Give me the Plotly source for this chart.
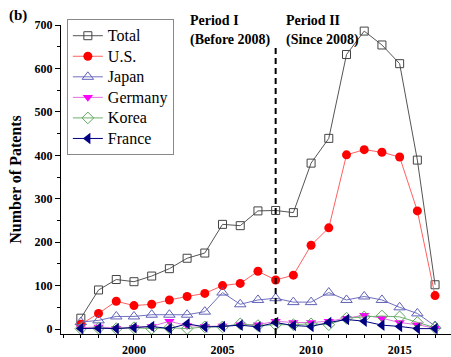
import plotly.graph_objects as go

years = list(range(1997, 2018))

total = [25, 90, 114, 109, 122, 139, 163, 175, 241, 238, 272, 273, 268, 382, 439, 632, 686, 654, 611, 389, 102]
us = [11, 36, 64, 54, 57, 67, 75, 82, 100, 105, 133, 113, 124, 193, 233, 401, 413, 407, 396, 272, 77]
japan = [16, 20, 29, 29, 33, 33, 33, 40, 84, 57, 67, 71, 62, 62, 84, 67, 75, 67, 50, 36, 7]
germany = [3, 5, 2, 4, 6, 18, 8, 6, 7, 10, 10, 18, 15, 15, 18, 25, 32, 25, 15, 10, 2]
korea = [1, 2, 1, 3, 1, 3, 1, 5, 5, 12, 8, 10, 10, 12, 10, 25, 28, 30, 28, 15, 3]
france = [1, 2, 1, 3, 6, 1, 12, 5, 6, 9, 5, 15, 8, 6, 15, 22, 18, 9, 6, 1, 1]

split_year = 2008
serif = "Liberation Serif, Times New Roman, serif"

series = [
    ("Total", total, "#555555", dict(symbol="square-open", size=8, color="#444444", line=dict(width=1))),
    ("U.S.", us, "#ff6060", dict(symbol="circle", size=9, color="#ff0000")),
    ("Japan", japan, "#7070c0", dict(symbol="triangle-up-open", size=10, color="#6060b8", line=dict(width=1))),
    ("Germany", germany, "#e070e0", dict(symbol="triangle-down", size=9, color="#ff00ff")),
    ("Korea", korea, "#70b070", dict(symbol="diamond-open", size=9, color="#60a860", line=dict(width=1))),
    ("France", france, "#000080", dict(symbol="triangle-left", size=10, color="#000080")),
]

fig = go.Figure()
for name, vals, lc, mk in series:
    fig.add_trace(go.Scatter(
        x=years, y=vals, mode="lines+markers",
        # larger glyphs inside a compact legend row
        name='<span style="font-size:16px">%s</span>' % name,
        line=dict(color=lc, width=1), marker=mk, cliponaxis=False,
    ))

# boundary between the two periods
fig.add_shape(type="line", x0=split_year, x1=split_year, y0=-11.4, y1=648,
              xref="x", yref="y", line=dict(color="black", width=2, dash="6px,4px"))

bold = dict(family=serif, size=14, color="black")
period_labels = [
    (2003.05, 5, "<b>Period I</b>"),
    (2003.05, -15, "<b>(Before 2008)</b>"),
    (2008.45, 5, "<b>Period II</b>"),
    (2008.45, -15, "<b>(Since 2008)</b>"),
]
for px, shift, txt in period_labels:
    fig.add_annotation(x=px, y=1, xref="x", yref="paper", yshift=shift, text=txt,
                       showarrow=False, xanchor="left", yanchor="middle", font=bold)

fig.add_annotation(x=-0.138, y=1.03, xref="paper", yref="paper", text="<b>(b)</b>",
                   showarrow=False, xanchor="left", yanchor="middle",
                   font=dict(family=serif, size=15, color="black"))

tickfont = dict(family=serif, size=12, color="black")
axis_common = dict(
    showgrid=False, zeroline=False, showline=True, linecolor="black", linewidth=1,
    ticks="outside", tickcolor="black", ticklen=5, tickfont=tickfont,
)

fig.update_layout(
    width=451, height=357,
    margin=dict(l=61, r=0, t=25, b=19),
    paper_bgcolor="white", plot_bgcolor="white",
    font=dict(family=serif, color="black"),
    xaxis=dict(range=[1995.88, 2017.9], tickvals=[2000, 2005, 2010, 2015],
               ticktext=["<b>2000</b>", "<b>2005</b>", "<b>2010</b>", "<b>2015</b>"],
               minor=dict(dtick=1, tick0=1995, ticks="outside", ticklen=3, tickcolor="black"),
               **axis_common),
    yaxis=dict(range=[-11.4, 700], tickvals=[0, 100, 200, 300, 400, 500, 600, 700],
               ticktext=["<b>%d</b>" % v for v in [0, 100, 200, 300, 400, 500, 600, 700]],
               minor=dict(dtick=50, tick0=0, ticks="outside", ticklen=3, tickcolor="black"),
               title=dict(text="<b>Number of Patents</b>", font=dict(family=serif, size=16), standoff=8),
               **axis_common),
    legend=dict(x=0.015, y=1.018, xanchor="left", yanchor="top",
                bgcolor="white", bordercolor="#888888", borderwidth=1,
                font=dict(family=serif, size=13.5, color="black"),
                tracegroupgap=0, itemwidth=30, entrywidth=104),
    showlegend=True,
)

fig.write_html("out.html")
